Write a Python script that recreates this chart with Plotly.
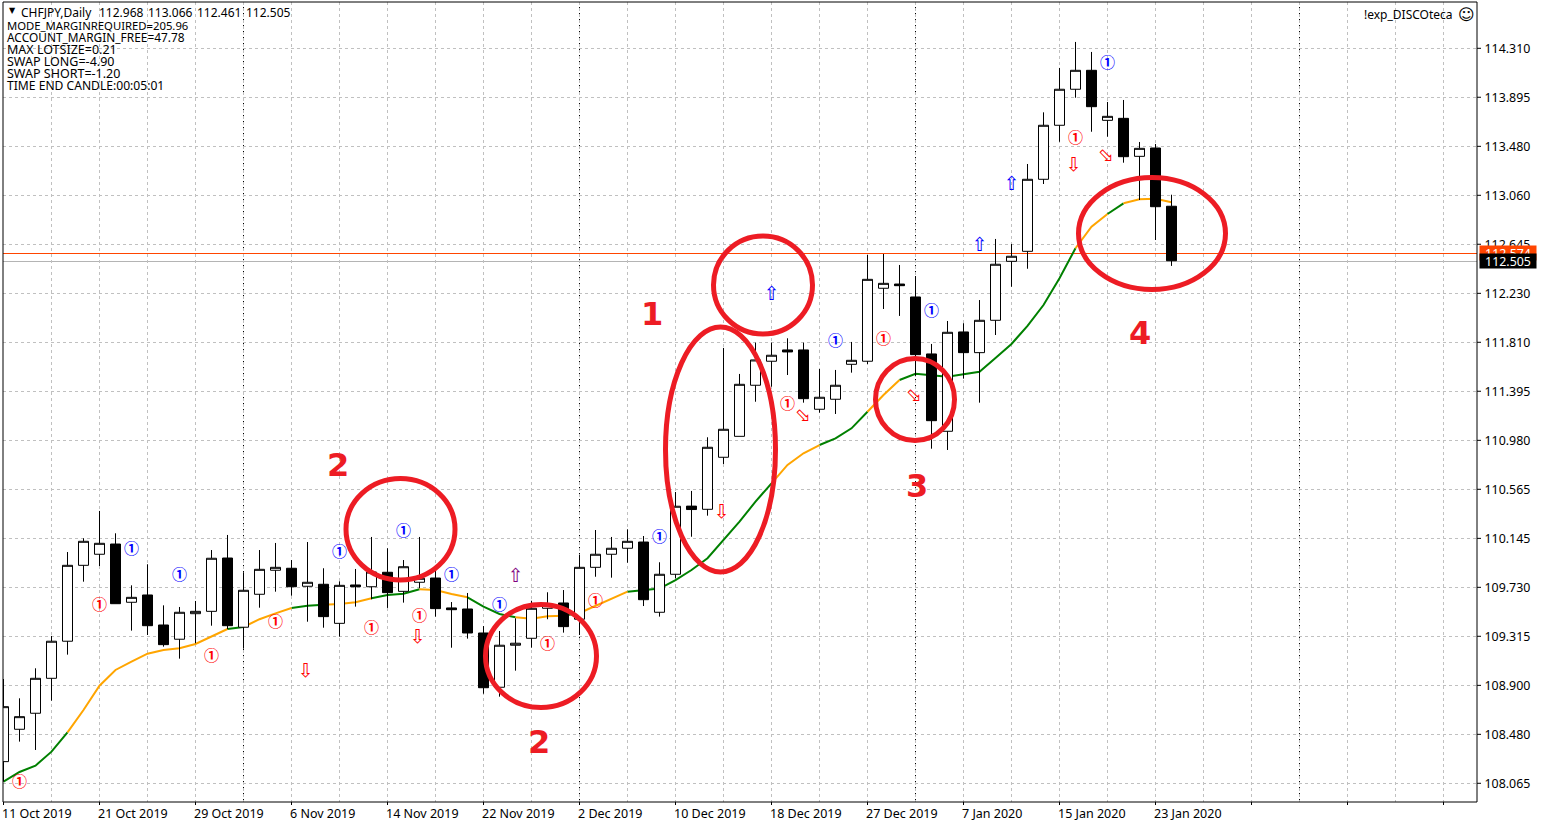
import plotly.graph_objects as go

FONT = "Noto Sans"
ARROW_FONT = "DejaVu Sans"
CIRCLE_FONT = "Noto Sans CJK JP"
RED = "#ed1c24"

opens = [108.249,108.524,108.660,108.957,109.272,109.917,110.011,110.098,109.603,109.665,109.410,109.289,109.506,109.526,109.979,109.391,109.671,109.875,109.892,109.739,109.756,109.424,109.750,109.735,109.858,109.696,109.773,109.809,109.555,109.546,109.342,108.881,109.238,109.297,109.552,109.597,109.459,109.900,110.011,110.062,110.115,109.518,109.841,110.420,110.393,110.835,111.013,111.447,111.651,111.747,111.747,111.243,111.328,111.625,111.651,112.271,112.307,112.197,111.713,111.056,111.900,111.724,111.999,112.500,112.585,113.197,113.656,113.962,114.123,113.698,113.715,113.392,113.463,112.968]
highs = [108.951,108.787,109.042,109.317,110.030,110.147,110.379,110.189,109.747,109.926,109.577,109.563,109.614,110.047,110.175,109.858,110.047,110.107,109.962,110.115,109.892,109.781,109.886,110.158,110.062,109.962,110.158,109.886,109.605,109.682,109.401,109.359,109.467,109.616,109.688,109.707,110.007,110.217,110.158,110.223,110.166,109.943,110.540,110.549,111.005,111.764,111.543,111.809,111.809,111.846,111.809,111.585,111.577,111.815,112.554,112.562,112.469,112.375,111.798,111.993,111.974,112.171,112.690,112.647,113.327,113.766,114.143,114.364,114.279,113.854,113.871,113.514,113.497,113.066]
lows = [108.079,108.419,108.348,108.767,109.158,109.778,109.911,109.591,109.362,109.325,109.226,109.124,109.255,109.404,109.374,109.209,109.557,109.693,109.659,109.438,109.387,109.311,109.566,109.628,109.555,109.600,109.722,109.481,109.217,109.294,108.826,108.801,109.022,109.217,109.459,109.345,109.325,109.820,109.812,109.939,109.571,109.481,109.807,110.160,110.339,110.778,111.013,111.307,111.435,111.534,111.299,111.214,111.203,111.554,111.627,112.095,112.036,111.526,110.908,110.897,111.503,111.299,111.874,112.284,112.437,113.157,113.516,113.890,113.601,113.559,113.338,113.021,112.681,112.461]
closes = [108.716,108.631,108.957,109.272,109.917,110.121,110.104,109.591,109.645,109.404,109.243,109.518,109.526,109.977,109.404,109.705,109.883,109.900,109.735,109.773,109.481,109.747,109.735,109.860,109.685,109.905,109.807,109.549,109.540,109.342,108.877,109.238,109.255,109.552,109.580,109.396,109.900,110.011,110.062,110.121,109.625,109.841,110.419,110.391,110.920,111.073,111.455,111.662,111.702,111.730,111.333,111.345,111.447,111.659,112.347,112.313,112.293,111.707,111.146,111.897,111.724,111.999,112.475,112.543,113.197,113.656,113.962,114.123,113.814,113.732,113.389,113.460,112.964,112.505]

ma_values = [108.079,108.161,108.215,108.334,108.498,108.688,108.894,109.028,109.098,109.166,109.198,109.212,109.249,109.311,109.376,109.393,109.459,109.509,109.555,109.574,109.583,109.588,109.603,109.637,109.665,109.676,109.713,109.707,109.673,109.645,109.566,109.504,109.475,109.464,109.484,109.489,109.512,109.571,109.631,109.693,109.707,109.719,109.792,109.877,109.977,110.132,110.288,110.458,110.614,110.770,110.869,110.939,110.996,111.081,111.222,111.364,111.492,111.545,111.532,111.520,111.540,111.562,111.679,111.798,111.951,112.129,112.356,112.611,112.794,112.902,112.993,113.027,113.032,113.002]
ma_green_runs = [(0,4),(14,15),(18,20),(23,26),(29,32),(35,36),(39,48),(51,54),(56,67),(69,70)]
ma_orange_runs = [(4,14),(15,18),(20,23),(26,29),(32,35),(36,39),(48,51),(54,56),(67,69),(70,73)]

blue_one_bars = [8,11,21,25,28,31,41,52,58,69]
blue_one_prices = [110.048,109.827,110.022,110.201,109.827,109.572,110.150,111.815,112.070,114.177]
red_one_bars = [1,6,13,17,23,26,34,37,49,55,67]
red_one_prices = [108.068,109.572,109.139,109.428,109.377,109.479,109.241,109.606,111.280,111.832,113.540]
blue_up_bars = [48,61,63]
blue_up_prices = [112.214,112.630,113.149]
purple_up_bars = [32]
purple_up_prices = [109.818]
red_down_bars = [18.875,25.875,44.875,66.875]
red_down_prices = [109.011,109.300,110.362,113.310]
red_diag_bars = [49.94,56.875,68.875]
red_diag_prices = [111.186,111.356,113.395]

price_ticks = [114.310,113.894,113.477,113.061,112.645,112.228,111.812,111.396,110.979,110.563,110.146,109.730,109.314,108.897,108.481,108.065]
price_labels = ["114.310","113.895","113.480","113.060","112.645","112.230","111.810","111.395","110.980","110.565","110.145","109.730","109.315","108.900","108.480","108.065"]
date_bars = [0,6,12,18,24,30,36,42,48,54,60,66,72]
date_labels = ["11 Oct 2019","21 Oct 2019","29 Oct 2019","6 Nov 2019","14 Nov 2019","22 Nov 2019","2 Dec 2019","10 Dec 2019","18 Dec 2019","27 Dec 2019","7 Jan 2020","15 Jan 2020","23 Jan 2020"]
time_ticks = date_bars + [78, 84, 90]
separator_bars = [15,36,57,81]
ask_price = 112.574
bid_price = 112.505
last_ohlc = ["112.968","113.066","112.461","112.505"]

info_lines = ["MODE_MARGINREQUIRED=205.96","ACCOUNT_MARGIN_FREE=47.78","MAX LOTSIZE=0.21","SWAP LONG=-4.90","SWAP SHORT=-1.20","TIME END CANDLE:00:05:01"]
info_sizes = [11.3, 11.9, 12.5, 12.5, 12.5, 12.1]

# page geometry in pixels
L, R, T, B = 3, 1477, 2, 802
def px(x): return (x - L) / (R - L)
def py(y): return (B - y) / (B - T)

bars = list(range(len(opens)))

def run_xy(runs):
    xs, ys = [], []
    for a, b in runs:
        xs += bars[a:b+1] + [None]
        ys += ma_values[a:b+1] + [None]
    return xs, ys

fig = go.Figure()
gx, gy = run_xy(ma_green_runs)
ox, oy = run_xy(ma_orange_runs)
fig.add_trace(go.Scatter(x=gx, y=gy, mode="lines", line=dict(color="#008000", width=2), zorder=0, hoverinfo="skip"))
fig.add_trace(go.Scatter(x=ox, y=oy, mode="lines", line=dict(color="#ffa500", width=2), zorder=0, hoverinfo="skip"))
fig.add_trace(go.Candlestick(x=bars, open=opens, high=highs, low=lows, close=closes, whiskerwidth=0, zorder=1,
    increasing=dict(line=dict(color="black", width=1), fillcolor="white"),
    decreasing=dict(line=dict(color="black", width=1), fillcolor="black")))

def glyphs(xs, ys, ch, color, font, size, weight="normal"):
    fig.add_trace(go.Scatter(x=xs, y=ys, mode="text", text=[ch]*len(xs), textposition="middle center",
        textfont=dict(family=font, size=size, color=color, weight=weight), zorder=2, hoverinfo="skip"))

glyphs(blue_one_bars, blue_one_prices, "①", "#0000ff", CIRCLE_FONT, 15, "bold")
glyphs(red_one_bars, red_one_prices, "①", "#ff0000", CIRCLE_FONT, 15, "bold")
glyphs(blue_up_bars, blue_up_prices, "⇧", "#0000ff", ARROW_FONT, 19)
glyphs(purple_up_bars, purple_up_prices, "⇧", "#800080", ARROW_FONT, 19)
glyphs(red_down_bars, red_down_prices, "⇩", "#ff0000", ARROW_FONT, 19)

shapes = []
for b in separator_bars:
    shapes.append(dict(type="line", xref="x", yref="paper", x0=b, x1=b, y0=0, y1=1, layer="below",
                       line=dict(color="black", width=1, dash="3px,3px")))
shapes.append(dict(type="line", xref="paper", yref="paper", x0=0, x1=1, y0=py(261.5), y1=py(261.5), layer="below",
                   line=dict(color="#b4b4b4", width=1)))
shapes.append(dict(type="line", xref="paper", yref="paper", x0=0, x1=1, y0=py(253.5), y1=py(253.5), layer="below",
                   line=dict(color="#ff4500", width=1)))
shapes.append(dict(type="rect", xref="paper", yref="paper", x0=0, x1=1, y0=0, y1=1, layer="above",
                   line=dict(color="black", width=1)))
for b in time_ticks:
    shapes.append(dict(type="line", xref="x", yref="paper", x0=b, x1=b, y0=0, y1=py(805), layer="above",
                       line=dict(color="black", width=1)))
for p in price_ticks:
    shapes.append(dict(type="line", xref="paper", yref="y", x0=1, x1=px(1481), y0=p, y1=p, layer="above",
                       line=dict(color="black", width=1)))
# hand-drawn red rings (pixel boxes of the stroke centre line)
for x0, x1, y0, y1 in [(346,455,478.5,580),(485.5,596.5,604.5,707.5),(665.5,775.5,327,572),
                       (713.5,812.5,236,334),(875.5,954.5,358.5,440.5),(1078.5,1225.5,177.5,289.5)]:
    shapes.append(dict(type="circle", xref="paper", yref="paper", x0=px(x0), x1=px(x1), y0=py(y1), y1=py(y0),
                       line=dict(color=RED, width=5), layer="above"))

ann = []
def text_at(x, y, s, size=12, color="black", anchor="left", family=FONT, **kw):
    ann.append(dict(xref="paper", yref="paper", x=px(x), y=py(y), text=s, showarrow=False, xanchor=anchor,
                    yanchor="middle", borderpad=0, font=dict(family=family, size=size, color=color), **kw))

text_at(7.5, 11, "▼", size=8, family=ARROW_FONT)
text_at(20, 12.5, "CHFJPY,Daily")
for i, s in enumerate(last_ohlc):
    text_at(98 + 49*i, 12.5, s)
for i, (line, sz) in enumerate(zip(info_lines, info_sizes)):
    text_at(6, 25 + 12.1*i, line, size=sz)
text_at(1454, 14, "!exp_DISCOteca", anchor="right")
text_at(1466, 14, "☺", size=16, anchor="center", family=ARROW_FONT)
for b, s in zip(date_bars, date_labels):
    ann.append(dict(xref="x", yref="paper", x=b, y=py(814), text=s, showarrow=False, xanchor="left", yanchor="middle",
                    xshift=-2.5, borderpad=0, font=dict(family=FONT, size=12.5, color="black")))
for b, p in zip(red_diag_bars, red_diag_prices):
    ann.append(dict(xref="x", yref="y", x=b, y=p, text="⇩", textangle=-45, showarrow=False,
                    font=dict(family=ARROW_FONT, size=19, color="#ff0000")))
for x, y, s in [(652,314,"1"),(338,465,"2"),(539,742,"2"),(917,486,"3"),(1140,333,"4")]:
    text_at(x, y, f"<b>{s}</b>", size=32, color=RED, anchor="center", family="DejaVu Sans")
for p, s, bg in [(ask_price, "112.574", "#ff4500"), (bid_price, "112.505", "black")]:
    ann.append(dict(xref="paper", yref="y", x=px(1479), y=p, text=s, showarrow=False, xanchor="left", yanchor="middle",
                    bgcolor=bg, width=56, height=14, borderpad=0, align="center",
                    font=dict(family=FONT, size=12.4, color="white")))

GRID = "#c0c0c0"
fig.update_layout(
    width=1541, height=826, margin=dict(l=L, r=1541-R, t=T, b=826-B, autoexpand=False),
    paper_bgcolor="white", plot_bgcolor="white", showlegend=False, hovermode=False,
    boxgap=0.375, boxgroupgap=0,
    shapes=shapes, annotations=ann,
    xaxis=dict(range=[(L-3.5)/16, (R-3.5)/16], rangeslider=dict(visible=False), tickmode="array",
               tickvals=time_ticks, ticktext=[""]*16, ticks="",
               showgrid=True, gridcolor=GRID, griddash="3px,3px", gridwidth=1, zeroline=False,
               minor=dict(tickmode="array", tickvals=[3+6*i for i in range(15)], showgrid=True, gridcolor=GRID,
                          griddash="3px,3px", gridwidth=1, ticks="")),
    yaxis=dict(range=[107.906, 114.7034], side="right", tickmode="array", tickvals=price_ticks, ticktext=price_labels,
               ticks="outside", ticklen=4, tickcolor="rgba(0,0,0,0)", tickfont=dict(family=FONT, size=12.4, color="black"),
               showgrid=True, gridcolor=GRID, griddash="3px,3px", gridwidth=1, zeroline=False),
)

fig.write_html("out.html", config=dict(displayModeBar=False),
               post_script="document.body.style.margin='0';document.body.style.overflow='hidden';")
